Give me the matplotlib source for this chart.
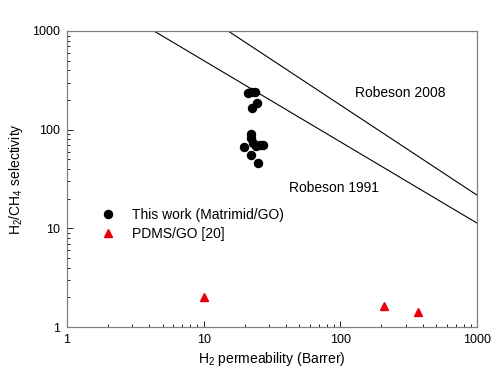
import matplotlib
matplotlib.use("Agg")
import matplotlib.pyplot as plt
from matplotlib.ticker import LogLocator, NullFormatter, FixedFormatter, FixedLocator

plt.rcParams["font.family"] = ["Liberation Sans", "DejaVu Sans"]
plt.rcParams["mathtext.default"] = "regular"

# this work (Matrimid/GO)
mat_perm = [21.1, 22.2, 23.7, 24.4, 22.5, 22.1, 22.1, 22.8, 24.1, 25.8, 27.2, 19.7, 22.1, 25.1]
mat_sel = [235, 240, 240, 187, 164, 90, 82, 73, 68, 70, 70, 66, 56, 46]

# PDMS/GO [20]
pdms_perm = [10, 210, 370]
pdms_sel = [2.0, 1.63, 1.42]

# upper bound end points
rob1991_perm = [4.33, 1000]
rob1991_sel = [1000, 11.3]
rob2008_perm = [15.1, 1000]
rob2008_sel = [1000, 21.7]

tick_vals = [1, 10, 100, 1000]
tick_labels = ["1", "10", "100", "1000"]

fig = plt.figure(figsize=(4.94, 3.74), dpi=100)
ax = fig.add_axes([67 / 494, 47 / 374, 410 / 494, 296 / 374])

ax.plot(rob1991_perm, rob1991_sel, color="black", lw=0.8)
ax.plot(rob2008_perm, rob2008_sel, color="black", lw=0.8)
ax.plot(mat_perm, mat_sel, "o", color="black", ms=5.8, label="This work (Matrimid/GO)")
ax.plot(pdms_perm, pdms_sel, "^", color="#e8000b", ms=5.5, mec="#e8000b", label="PDMS/GO [20]")

ax.set_xscale("log")
ax.set_yscale("log")
ax.set_xlim(1, 1000)
ax.set_ylim(1, 1000)

for axis in (ax.xaxis, ax.yaxis):
    axis.set_major_locator(FixedLocator(tick_vals))
    axis.set_major_formatter(FixedFormatter(tick_labels))
    axis.set_minor_locator(LogLocator(base=10, subs=range(2, 10)))
    axis.set_minor_formatter(NullFormatter())
ax.tick_params(which="both", direction="in", color="black", labelsize=9, width=0.6)
ax.tick_params(which="major", length=4, pad=5)
ax.tick_params(which="minor", length=2.5)
ax.tick_params(axis="x", which="both", top=False)
ax.tick_params(axis="y", which="both", right=False)
for sp in ax.spines.values():
    sp.set_color("#808080")
    sp.set_linewidth(0.9)

ax.text(42.1, 25.6, "Robeson 1991", fontsize=10, va="center", ha="left")
ax.text(128, 235, "Robeson 2008", fontsize=10, va="center", ha="left")

ax.set_xlabel("H$_2$ permeability (Barrer)", fontsize=10, labelpad=3)
ax.set_ylabel("H$_2$/CH$_4$ selectivity", fontsize=10, labelpad=5)

ax.legend(loc="upper left", bbox_to_anchor=(0.06, 0.42), frameon=False, fontsize=10,
          handletextpad=1.0, labelspacing=0.35, handlelength=1.5, borderaxespad=0)

fig.savefig("out.png", dpi=100)
